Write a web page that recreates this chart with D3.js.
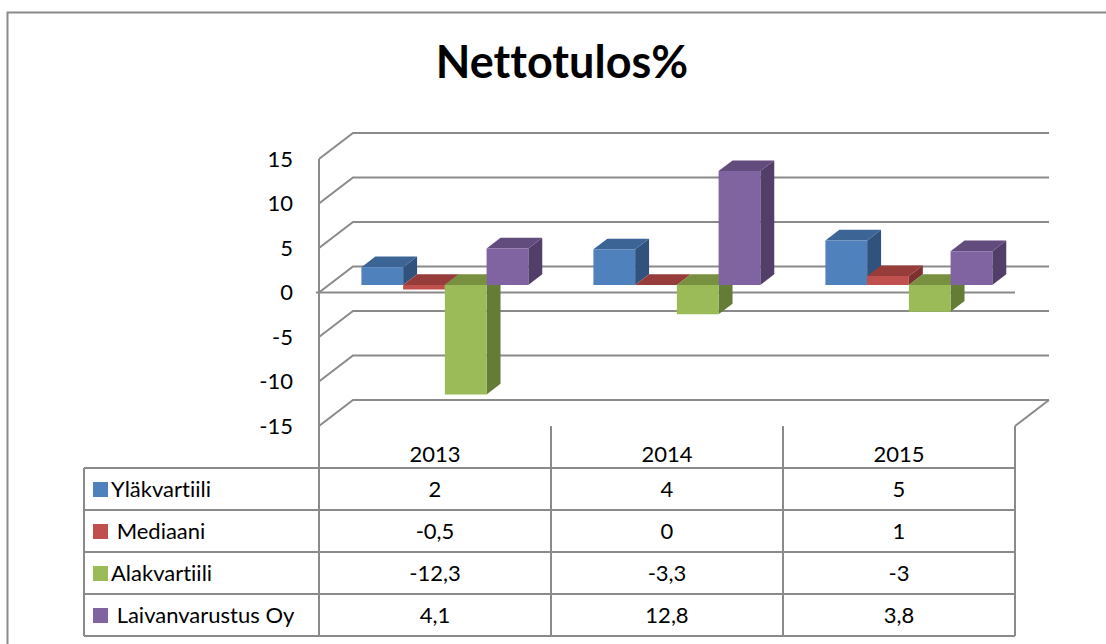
<!DOCTYPE html>
<html>
<head>
<meta charset="utf-8">
<script src="https://cdn.jsdelivr.net/npm/d3@7"></script>
<style>
    body { margin: 0; background: #fff; }
    svg text { font-family: Lato, "Open Sans", sans-serif; fill: #000; font-variant-ligatures: none; font-feature-settings: "liga" 0; }
</style>
</head>
<body>
<div id="container"></div>
<script>
const years = ["2013", "2014", "2015"];
const seriesNames = ["Yläkvartiili", " Mediaani", "Alakvartiili", " Laivanvarustus Oy"];
const ylakvartiili = [2, 4, 5];
const mediaani = [-0.5, 0, 1];
const alakvartiili = [-12.3, -3.3, -3];
const laivanvarustus = [4.1, 12.8, 3.8];
const yTicks = [-15, -10, -5, 0, 5, 10, 15];
const frontColors = ["#4F81BD", "#C0504D", "#9BBB59", "#8064A2"];
const topColors = ["#3C6494", "#963D3B", "#779140", "#624C7D"];
const sideColors = ["#30527C", "#7D3230", "#657C36", "#523F69"];

const w = 1106;
const h = 644;
const left = 319;
const right = 1015;
const depthX = 34;
const depthY = -26;
const barFront = 0.29;
const barBack = 0.70;
const gridColor = "#8a8a8a";
const fontSize = "22px";

const values = [ylakvartiili, mediaani, alakvartiili, laivanvarustus];

const svg = d3.select("#container")
    .append("svg")
    .attr("width", w)
    .attr("height", h);

// outer frame
svg.append("rect")
    .attr("x", 7.5).attr("y", 12.5)
    .attr("width", 1300).attr("height", 800)
    .attr("fill", "none")
    .attr("stroke", gridColor)
    .attr("stroke-width", 2);

svg.append("text")
    .attr("x", 562).attr("y", 78)
    .attr("text-anchor", "middle")
    .style("font-size", "45px")
    .style("font-weight", "bold")
    .text("Nettotulos%");

const xScale = d3.scaleBand()
    .domain(years)
    .range([left, right]);

const xSeries = d3.scaleBand()
    .domain(d3.range(seriesNames.length))
    .range([0, xScale.bandwidth()])
    .paddingOuter(0.78);

const yScale = d3.scaleLinear()
    .domain([-15, 15])
    .range([426, 159]);

// walls: side diagonals + back gridlines
const grid = svg.append("g")
    .attr("stroke", gridColor)
    .attr("stroke-width", 2)
    .attr("fill", "none");

grid.selectAll("path.gl")
    .data(yTicks)
    .enter()
    .append("path")
    .attr("class", "gl")
    .attr("d", (d) => "M" + left + "," + yScale(d)
        + "L" + (left + depthX) + "," + (yScale(d) + depthY)
        + "L" + (right + depthX) + "," + (yScale(d) + depthY));

grid.append("line")
    .attr("x1", left).attr("x2", left)
    .attr("y1", yScale(15)).attr("y2", yScale(-15));

grid.append("line")
    .attr("x1", left - 3).attr("x2", right)
    .attr("y1", yScale(0)).attr("y2", yScale(0));

grid.append("path")
    .attr("d", "M" + right + "," + yScale(-15) + "L" + (right + depthX) + "," + (yScale(-15) + depthY));

const yAxis = d3.axisLeft(yScale)
    .tickValues(yTicks)
    .tickSize(0)
    .tickPadding(26)
    .tickFormat((d) => String(d));

const axisG = svg.append("g")
    .attr("transform", "translate(" + left + ",0)")
    .call(yAxis);
axisG.select(".domain").remove();
axisG.selectAll("text")
    .style("font-size", fontSize)
    .style("font-family", "Lato, sans-serif")
    .attr("fill", "#000");

// bars
const bars = [];
years.forEach((year, c) => {
    values.forEach((vals, s) => {
        bars.push({ year: year, s: s, v: vals[c] });
    });
});

const pt = (x, y, f) => (x + f * depthX) + "," + (y + f * depthY);

const barG = svg.append("g")
    .selectAll("g")
    .data(bars)
    .enter()
    .append("g");

barG.each(function (d) {
    const g = d3.select(this);
    const x0 = xScale(d.year) + xSeries(d.s);
    const x1 = x0 + xSeries.bandwidth();
    const yTop = yScale(Math.max(d.v, 0));
    const yBot = yScale(Math.min(d.v, 0));
    g.append("polygon")
        .attr("points", [pt(x1, yTop, barFront), pt(x1, yTop, barBack), pt(x1, yBot, barBack), pt(x1, yBot, barFront)].join(" "))
        .attr("fill", sideColors[d.s]);
    g.append("polygon")
        .attr("points", [pt(x0, yTop, barFront), pt(x1, yTop, barFront), pt(x1, yTop, barBack), pt(x0, yTop, barBack)].join(" "))
        .attr("fill", topColors[d.s]);
    g.append("polygon")
        .attr("points", [pt(x0, yTop, barFront), pt(x1, yTop, barFront), pt(x1, yBot, barFront), pt(x0, yBot, barFront)].join(" "))
        .attr("fill", frontColors[d.s]);
});

// data table
const tableTop = yScale(-15);
const headerBottom = 468;
const tableBottom = 636;
const tableLeft = 84;
const rowScale = d3.scaleBand()
    .domain(d3.range(seriesNames.length))
    .range([headerBottom, tableBottom]);

const table = svg.append("g")
    .attr("stroke", gridColor)
    .attr("stroke-width", 2);

table.selectAll("line.v")
    .data(d3.range(years.length + 1))
    .enter()
    .append("line")
    .attr("x1", (i) => left + i * xScale.bandwidth())
    .attr("x2", (i) => left + i * xScale.bandwidth())
    .attr("y1", tableTop)
    .attr("y2", tableBottom);

table.append("line")
    .attr("x1", tableLeft).attr("x2", tableLeft)
    .attr("y1", headerBottom).attr("y2", tableBottom);

table.selectAll("line.h")
    .data(d3.range(seriesNames.length + 1))
    .enter()
    .append("line")
    .attr("x1", tableLeft)
    .attr("x2", right)
    .attr("y1", (i) => headerBottom + i * rowScale.bandwidth())
    .attr("y2", (i) => headerBottom + i * rowScale.bandwidth());

svg.selectAll("text.year")
    .data(years)
    .enter()
    .append("text")
    .attr("class", "year")
    .attr("x", (d) => xScale(d) + xScale.bandwidth() / 2)
    .attr("y", 462)
    .attr("text-anchor", "middle")
    .style("font-size", fontSize)
    .text((d) => d);

const rows = svg.selectAll("g.row")
    .data(seriesNames)
    .enter()
    .append("g")
    .attr("class", "row")
    .attr("transform", (d, i) => "translate(0," + (rowScale(i) + rowScale.bandwidth() / 2) + ")");

rows.append("rect")
    .attr("x", 93).attr("y", -7)
    .attr("width", 15).attr("height", 15)
    .attr("fill", (d, i) => frontColors[i]);

rows.append("text")
    .attr("x", 111)
    .attr("y", 8)
    .style("font-size", fontSize)
    .style("white-space", "pre")
    .text((d) => d);

rows.each(function (d, s) {
    d3.select(this).selectAll("text.val")
        .data(years)
        .enter()
        .append("text")
        .attr("class", "val")
        .attr("x", (y) => xScale(y) + xScale.bandwidth() / 2)
        .attr("y", 8)
        .attr("text-anchor", "middle")
        .style("font-size", fontSize)
        .text((y, c) => String(values[s][c]).replace(".", ","));
});
</script>
</body>
</html>
